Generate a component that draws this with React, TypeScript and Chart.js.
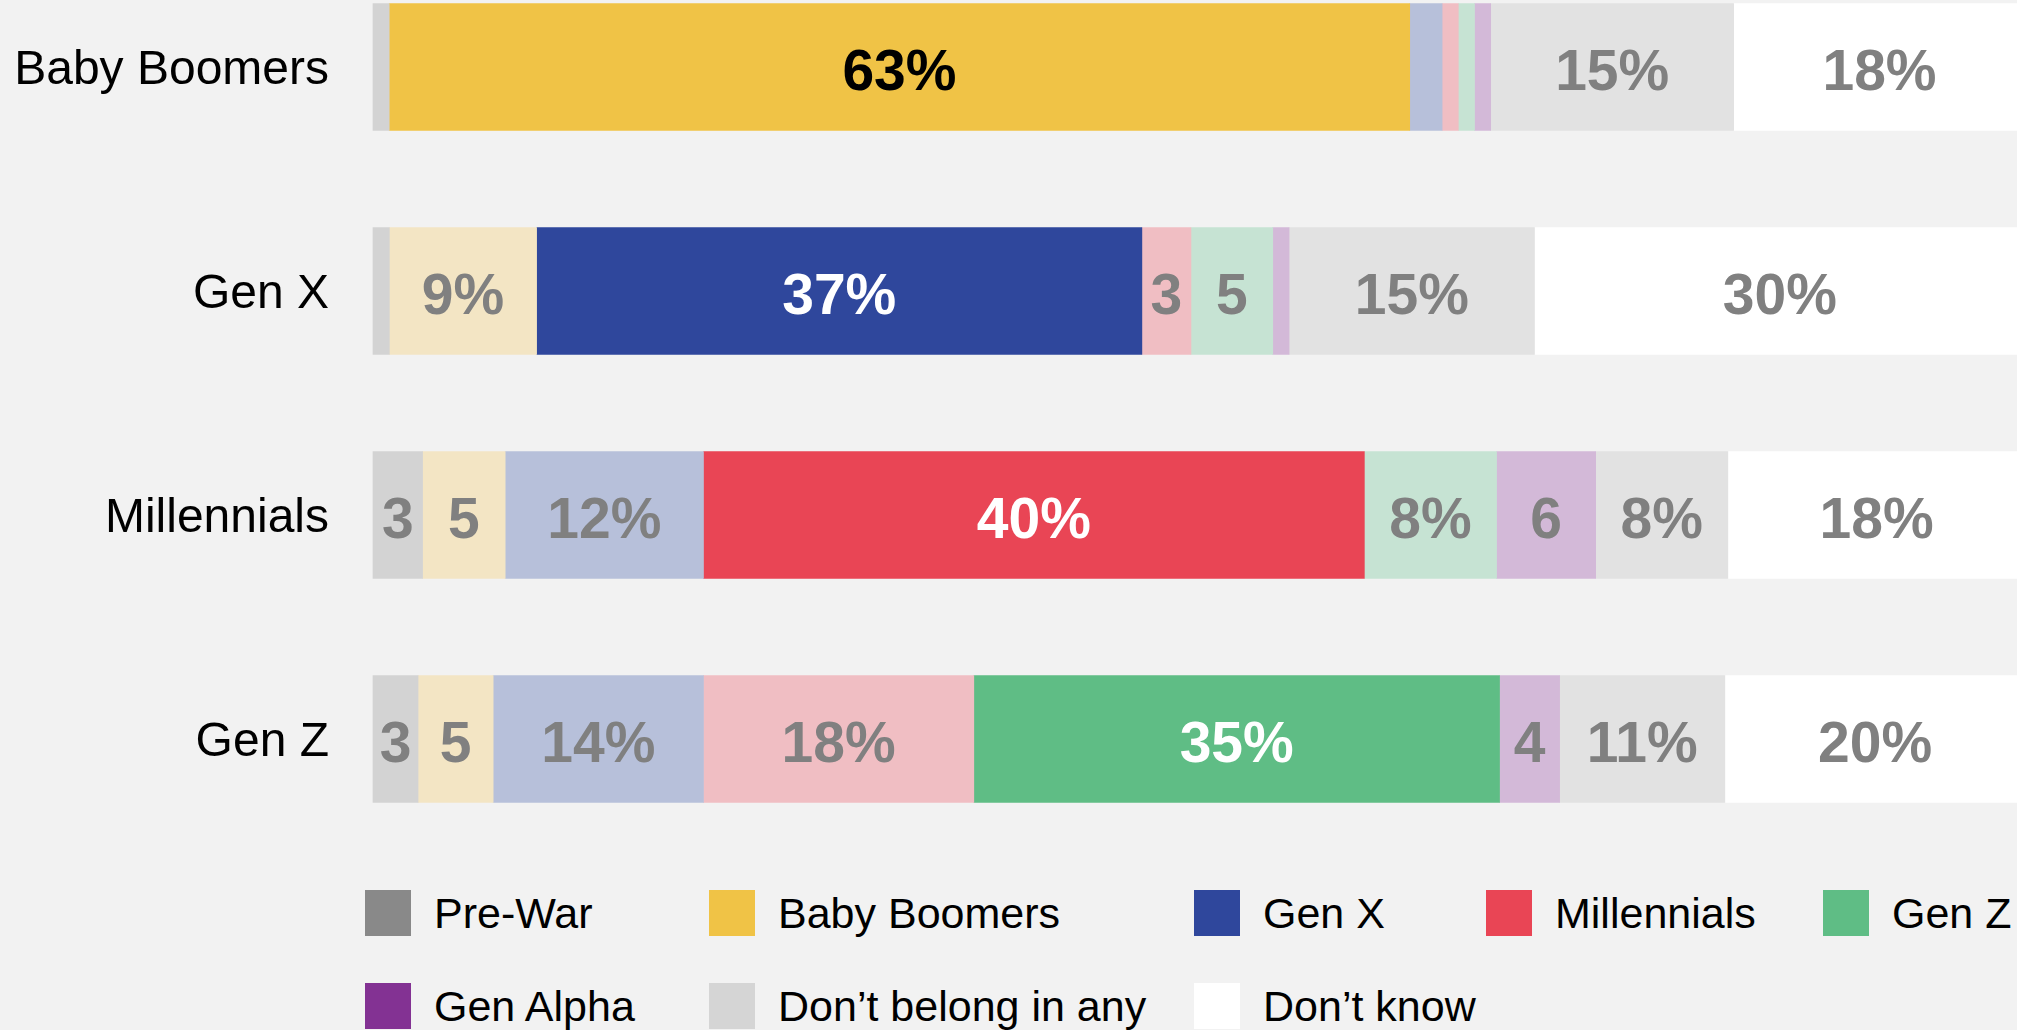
import React, { useEffect, useRef } from "react";
import { Chart, registerables } from "chart.js";

Chart.register(...registerables);

// ---- Data ----
const CATEGORIES = ["Baby Boomers", "Gen X", "Millennials", "Gen Z"];
const SERIES = [
  "Pre-War",
  "Baby Boomers",
  "Gen X",
  "Millennials",
  "Gen Z",
  "Gen Alpha",
  "Don’t belong in any",
  "Don’t know",
];
// one value per category row (Baby Boomers, Gen X, Millennials, Gen Z)
const PRE_WAR = [1, 1, 3, 3];
const BABY_BOOMERS = [63, 9, 5, 5];
const GEN_X = [2, 37, 12, 14];
const MILLENNIALS = [1, 3, 40, 18];
const GEN_Z = [1, 5, 8, 35];
const GEN_ALPHA = [1, 1, 6, 4];
const DONT_BELONG = [15, 15, 8, 11];
const DONT_KNOW = [18, 30, 18, 20];

const SERIES_VALUES = [PRE_WAR, BABY_BOOMERS, GEN_X, MILLENNIALS, GEN_Z, GEN_ALPHA, DONT_BELONG, DONT_KNOW];

// ---- Styles ----
const FULL_COLORS = ["#898989", "#F0C346", "#2F479C", "#E94555", "#5FBD85", "#833293", "#D5D5D5", "#FFFFFF"];
const LIGHT_COLORS = ["#D3D3D3", "#F3E5C4", "#B7C0DA", "#F0BEC3", "#C6E3D3", "#D3B9D8", "#E2E2E2", "#FFFFFF"];
const OWN_LABEL_COLORS = ["#000000", "#FFFFFF", "#FFFFFF", "#FFFFFF"];
const FONT = "'Liberation Sans', Arial, Helvetica, sans-serif";

const rowTotals = CATEGORIES.map((_, ci) => SERIES_VALUES.reduce((s, arr) => s + arr[ci], 0));
const ownSeriesIndex = (ci: number) => SERIES.indexOf(CATEGORIES[ci]);

const labelFor = (v: number) => (v >= 7 ? `${v}%` : v >= 3 ? `${v}` : "");

const dataLabelPlugin = {
  id: "segLabels",
  afterDatasetsDraw(chart: any) {
    const ctx = chart.ctx;
    ctx.save();
    ctx.font = `bold 57px ${FONT}`;
    ctx.textAlign = "center";
    ctx.textBaseline = "middle";
    chart.data.datasets.forEach((ds: any, si: number) => {
      const meta = chart.getDatasetMeta(si);
      meta.data.forEach((el: any, ci: number) => {
        const raw = SERIES_VALUES[si][ci];
        const txt = labelFor(raw);
        if (!txt) return;
        const own = ownSeriesIndex(ci) === si;
        ctx.fillStyle = own ? OWN_LABEL_COLORS[ci] : "#808080";
        const cx = (el.x + el.base) / 2;
        ctx.fillText(txt, cx, el.y + 7);
      });
    });
    ctx.restore();
  },
};

export default function App() {
  const canvasRef = useRef<HTMLCanvasElement | null>(null);

  useEffect(() => {
    document.body.style.margin = "0";
    document.body.style.background = "#F2F2F2";
    document.documentElement.style.background = "#F2F2F2";
    const canvas = canvasRef.current;
    if (!canvas) return;

    const datasets = SERIES.map((name, si) => ({
      label: name,
      data: SERIES_VALUES[si].map((v, ci) => (v / rowTotals[ci]) * 100),
      backgroundColor: CATEGORIES.map((_, ci) => (ownSeriesIndex(ci) === si ? FULL_COLORS[si] : LIGHT_COLORS[si])),
      borderWidth: 0,
      barThickness: 127,
      clip: false as any,
    }));

    const chart = new Chart(canvas, {
      type: "bar",
      data: { labels: CATEGORIES, datasets },
      options: {
        indexAxis: "y",
        animation: false,
        responsive: false,
        maintainAspectRatio: false,
        layout: { autoPadding: false, padding: { top: 67, bottom: 121, left: 0, right: 0 } },
        plugins: {
          legend: { display: false },
          tooltip: { enabled: false },
        },
        scales: {
          x: {
            stacked: true,
            min: 0,
            max: 99.5,
            display: false,
          },
          y: {
            stacked: true,
            offset: false,
            grid: { display: false, drawTicks: false },
            border: { display: false },
            ticks: {
              color: "#000000",
              padding: 44,
              labelOffset: 4,
              font: { family: FONT, size: 48 },
            },
            afterFit: (scale: any) => {
              scale.width = 373;
              scale.paddingTop = 0;
              scale.paddingBottom = 0;
            },
          },
        },
      },
      plugins: [dataLabelPlugin],
    });
    return () => chart.destroy();
  }, []);

  const LEGEND_COLS = [365, 709, 1194, 1486, 1823];
  const LEGEND_ROWS = [890, 983];

  return (
    <div
      style={{
        position: "relative",
        width: 2017,
        height: 1030,
        overflow: "hidden",
        background: "#F2F2F2",
        fontFamily: FONT,
      }}
    >
      <canvas ref={canvasRef} width={2017} height={860} style={{ position: "absolute", left: 0, top: 0, width: 2017, height: 860 }} />
      {SERIES.map((name, si) => {
        const col = si % 5;
        const row = Math.floor(si / 5);
        return (
          <div
            key={name}
            style={{
              position: "absolute",
              left: LEGEND_COLS[col],
              top: LEGEND_ROWS[row],
              height: 46,
              display: "flex",
              alignItems: "center",
              whiteSpace: "nowrap",
            }}
          >
            <span style={{ display: "inline-block", width: 46, height: 46, background: FULL_COLORS[si] }} />
            <span style={{ marginLeft: 23, fontSize: 43, color: "#000", lineHeight: "46px" }}>{name}</span>
          </div>
        );
      })}
    </div>
  );
}
